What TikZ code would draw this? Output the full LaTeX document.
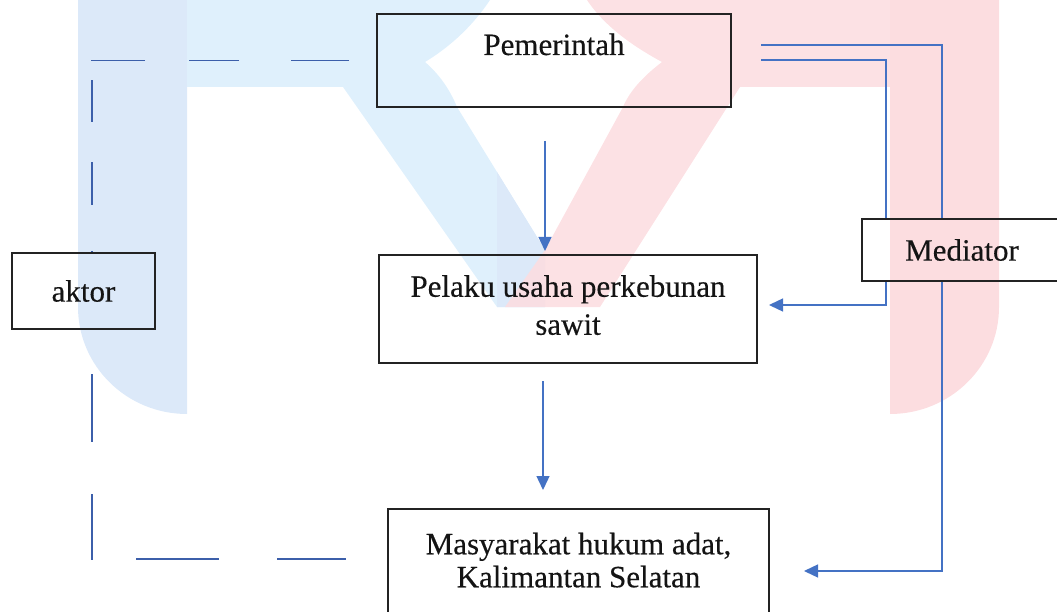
\documentclass[tikz,border=0pt]{standalone}
\usepackage{fontspec}
\setmainfont{Liberation Serif}
\newfontfamily\boxfont{Liberation Serif}[FakeBold=0.35]
\usetikzlibrary{arrows.meta,calc}
\definecolor{bandblue}{RGB}{223,240,252}
\definecolor{pillarblue}{RGB}{220,233,249}
\definecolor{wmred}{RGB}{252,221,224}
\definecolor{lineblue}{RGB}{68,114,196}
\definecolor{dashblue}{RGB}{60,95,170}
\definecolor{boxline}{RGB}{35,35,35}
\begin{document}
\begin{tikzpicture}[x=1pt,y=-1pt,
  box/.style={draw=boxline,line width=2pt,inner sep=0pt,font=\boxfont\fontsize{31}{36}\selectfont,align=center,text=black!92},
  conn/.style={draw=lineblue,line width=1.4pt},
  arr/.style={conn,-{Triangle[length=14pt,width=13pt]}},
  dashconn/.style={draw=dashblue,line width=1.4pt}]
\useasboundingbox (0,0) rectangle (1057,612);
\clip (0,0) rectangle (1057,612);
% watermark
\fill[pillarblue] (78,0) -- (187,0) -- (187,414) arc[start angle=270,end angle=180,x radius=109pt,y radius=107pt] -- cycle;
\fill[wmred] (890,0) -- (999,0) -- (999,307) arc[start angle=0,end angle=-90,x radius=109pt,y radius=107pt] -- cycle;
\fill[bandblue] (187,0) -- (490,0) .. controls (470,30) and (445,50) .. (425,62) .. controls (440,75) and (450,90) .. (457,107) -- (545,250) -- (545,307) -- (497,307) -- (343,87) -- (187,87) -- cycle;
\fill[pillarblue] (497,172) -- (545,250) -- (545,307) -- (497,307) -- cycle;
\fill[wmred,opacity=0.88] (890,0) -- (587,0) .. controls (607,30) and (640,50) .. (662,62) .. controls (645,75) and (630,90) .. (623,107) -- (545,250) -- (505,307) -- (600,307) -- (740,87) -- (890,87) -- cycle;
% nodes
\node[box,minimum width=354pt,minimum height=93pt,text height=22pt,text depth=33pt] (pem) at (554,60.5) {Pemerintah};
\node[box,minimum width=378pt,minimum height=108pt,text depth=8pt] (pel) at (568,309) {Pelaku usaha perkebunan\\[2pt] sawit};
\node[box,minimum width=381pt,minimum height=108pt,text depth=6pt] (mas) at (578.5,563) {Masyarakat hukum adat,\\[-3pt] Kalimantan Selatan};
\node[box,minimum width=143pt,minimum height=76pt] (akt) at (83.5,291) {aktor};
\node[box,minimum width=200pt,minimum height=62pt] (med) at (962,250) {Mediator};
% connectors
\draw[arr] ([xshift=-9pt,yshift=-33pt]pem.south) -- ([xshift=-23pt,yshift=3pt]pel.north);
\draw[arr] ([xshift=-25pt,yshift=-17pt]pel.south) -- ([xshift=-35.5pt,yshift=18pt]mas.north);
\draw[conn] ([xshift=29pt,yshift=15.5pt]pem.east) -| ([xshift=-20pt]med.north);
\draw[arr] ([xshift=-20pt]med.south) |- ([xshift=34pt,yshift=-8pt]mas.east);
\draw[conn] ([xshift=29pt,yshift=0.5pt]pem.east) -| ([xshift=-76pt]med.north);
\draw[arr] ([xshift=-76pt]med.south) |- ([xshift=11pt,yshift=4pt]pel.east);
\draw[dashconn,dash pattern=on 58pt off 52pt on 50pt off 44pt on 54pt off 19pt on 42pt off 40pt on 43pt off 46pt on 3pt off 10pt]
  ([xshift=-27pt]pem.west) -| ([xshift=8.5pt]akt.north);
\draw[dashconn,dash pattern=on 0pt off 44pt on 68pt off 52pt on 66pt off 43pt on 83pt off 58pt on 72pt off 20pt]
  ([xshift=8.5pt]akt.south) |- ([xshift=-41pt,yshift=4pt]mas.west);
\end{tikzpicture}
\end{document}
